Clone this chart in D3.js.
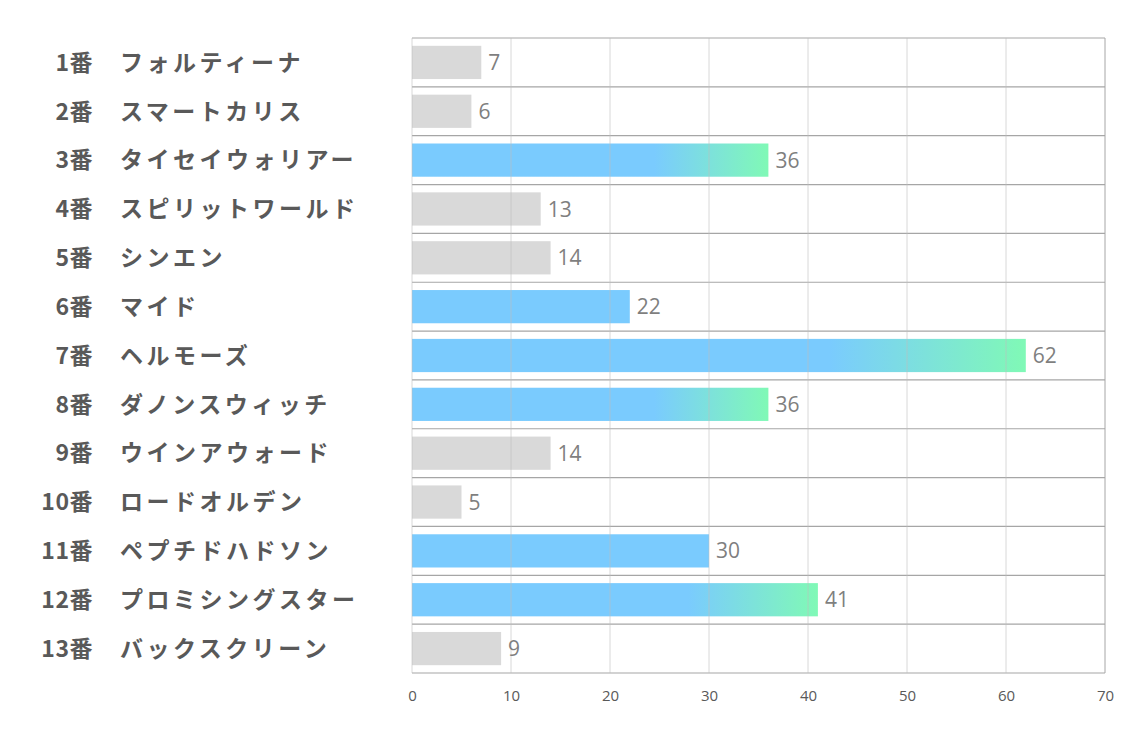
<!DOCTYPE html>
<html>
<head>
<meta charset="utf-8">
<script src="https://cdn.jsdelivr.net/npm/d3@7"></script>
<style>
  body { margin: 0; background: #fff; }
  svg { display: block; }
</style>
</head>
<body>
<div id="chart"></div>
<script>
// horse numbers / names / values, top to bottom
var numbers = ['1番','2番','3番','4番','5番','6番','7番','8番','9番','10番','11番','12番','13番']
var names = ['フォルティーナ','スマートカリス','タイセイウォリアー','スピリットワールド','シンエン','マイド','ヘルモーズ','ダノンスウィッチ','ウインアウォード','ロードオルデン','ペプチドハドソン','プロミシングスター','バックスクリーン']
var values = [7, 6, 36, 13, 14, 22, 62, 36, 14, 5, 30, 41, 9]
// bar style group: 0 gray, 1 blue, 2 blue->green
var groups = [0, 0, 2, 0, 0, 1, 2, 2, 0, 0, 1, 2, 0]
var ticks = [0, 10, 20, 30, 40, 50, 60, 70]

var width = 1134, height = 737
var margin = {top: 38, right: 29, bottom: 64, left: 412}

var svg = d3.select('#chart').append('svg')
  .attr('width', width).attr('height', height)

var x = d3.scaleLinear().domain([0, 70]).range([margin.left, width - margin.right])
var y = d3.scaleBand().domain(d3.range(values.length))
  .range([margin.top, height - margin.bottom]).paddingInner(0.32).paddingOuter(0.16)
var rows = d3.scaleBand().domain(d3.range(values.length))
  .range([margin.top, height - margin.bottom])

var defs = svg.append('defs')
var grad = defs.append('linearGradient').attr('id', 'grad')
  .attr('x1', '0%').attr('x2', '100%').attr('y1', '0%').attr('y2', '0%')
grad.append('stop').attr('offset', '0%').attr('stop-color', '#7acbfe')
grad.append('stop').attr('offset', '68%').attr('stop-color', '#7acbfe')
grad.append('stop').attr('offset', '100%').attr('stop-color', '#80f9b6')

var colors = ['#d9d9d9', '#7acbfe', 'url(#grad)']

// horizontal row lines
svg.append('g').selectAll('line').data(d3.range(values.length + 1)).enter()
  .append('line')
  .attr('x1', x(0)).attr('x2', x(70))
  .attr('y1', i => i < values.length ? rows(i) : rows(values.length - 1) + rows.bandwidth())
  .attr('y2', i => i < values.length ? rows(i) : rows(values.length - 1) + rows.bandwidth())
  .attr('stroke', '#a6a6a6').attr('stroke-width', 1.2)

// bars
svg.append('g').selectAll('rect').data(values).enter()
  .append('rect')
  .attr('x', x(0))
  .attr('y', (d, i) => y(i))
  .attr('width', d => x(d) - x(0))
  .attr('height', y.bandwidth())
  .attr('fill', (d, i) => colors[groups[i]])

// vertical grid lines, drawn lightly over the bars
svg.append('g').selectAll('line').data(ticks).enter()
  .append('line')
  .attr('x1', d => x(d)).attr('x2', d => x(d))
  .attr('y1', margin.top).attr('y2', height - margin.bottom)
  .attr('stroke', d => d == 70 ? '#a6a6a6' : '#bfbfbf')
  .attr('stroke-opacity', d => d == 70 ? 1 : 0.6)
  .attr('stroke-width', 1)

// value labels
svg.append('g').selectAll('text').data(values).enter()
  .append('text')
  .attr('x', d => x(d) + 7)
  .attr('y', (d, i) => y(i) + y.bandwidth() / 2)
  .attr('dy', '0.36em')
  .attr('font-family', "'Open Sans', 'Noto Sans', sans-serif")
  .attr('font-size', '21px')
  .attr('fill', '#7f7f7f')
  .text(d => d)

// row labels: number + name
var lab = svg.append('g')
  .attr('font-family', "'Noto Sans CJK JP', sans-serif")
  .attr('font-weight', 'bold')
  .attr('font-size', '23px')
  .attr('fill', '#595959')
lab.selectAll('.num').data(numbers).enter()
  .append('text').attr('class', 'num')
  .attr('x', 93)
  .attr('y', (d, i) => y(i) + y.bandwidth() / 2)
  .attr('dy', '0.36em')
  .attr('text-anchor', 'end')
  .attr('letter-spacing', '0.5px')
  .text(d => d)
lab.selectAll('.name').data(names).enter()
  .append('text').attr('class', 'name')
  .attr('x', 120)
  .attr('y', (d, i) => y(i) + y.bandwidth() / 2)
  .attr('dy', '0.36em')
  .attr('letter-spacing', '3.5px')
  .text(d => d)

// x axis
var xAxis = g => g
  .attr('transform', `translate(0,${height - margin.bottom})`)
  .call(d3.axisBottom(x).tickValues(ticks).tickSize(0).tickPadding(17))
  .call(g => g.select('.domain').remove())
  .call(g => g.selectAll('text')
    .attr('font-family', "'Open Sans', 'Noto Sans', sans-serif")
    .attr('font-size', '15px')
    .attr('fill', '#595959'))

svg.append('g').call(xAxis)
</script>
</body>
</html>
